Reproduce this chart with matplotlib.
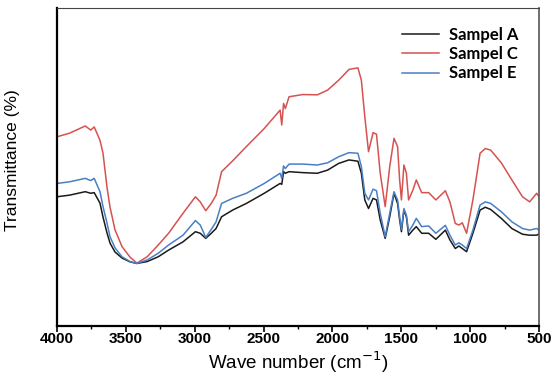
import matplotlib
matplotlib.use("Agg")
import matplotlib.pyplot as plt
from matplotlib.ticker import MultipleLocator

# wavenumber grid (cm-1)
wavenumber = [4000, 3910, 3795, 3755, 3730, 3688, 3666, 3637, 3615, 3579,
              3528, 3470, 3420, 3345, 3265, 3190, 3085, 2995, 2960, 2920,
              2880, 2845, 2805, 2725, 2625, 2495, 2380, 2368, 2355, 2342,
              2315, 2215, 2110, 2035, 1955, 1880, 1815, 1790, 1765, 1738,
              1705, 1680, 1653, 1617, 1584, 1553, 1527, 1512, 1499, 1481,
              1463, 1447, 1416, 1391, 1352, 1301, 1249, 1180, 1147, 1108,
              1082, 1057, 1026, 980, 928, 890, 851, 774, 697, 620,
              568, 517, 500]

# transmittance (arbitrary %, axis runs 0-100)
sampel_a = [40.7, 41.2, 42.3, 41.8, 42.0, 38.7, 34.3, 29.3, 26.1, 23.3,
            21.4, 20.2, 19.7, 20.3, 21.8, 23.9, 26.5, 29.7, 29.2, 27.6,
            29.2, 30.7, 34.4, 36.5, 38.6, 41.8, 44.9, 44.6, 48.6, 48.1,
            48.6, 48.3, 48.1, 49.1, 51.2, 52.3, 51.9, 48.1, 39.7, 37.0,
            40.2, 39.7, 33.4, 27.6, 34.4, 41.8, 38.6, 33.4, 29.7, 36.5,
            34.4, 28.6, 30.2, 31.3, 29.2, 29.2, 27.3, 30.2, 27.1, 24.4,
            25.2, 24.4, 23.4, 29.2, 36.5, 37.4, 36.7, 33.9, 30.7, 28.9,
            28.6, 28.6, 29.0]

sampel_c = [59.6, 60.7, 63.0, 61.7, 62.7, 58.5, 54.4, 43.7, 37.4, 30.3,
            25.0, 21.7, 19.8, 21.8, 25.5, 29.2, 35.5, 40.7, 39.1, 36.3,
            38.6, 41.2, 48.6, 52.0, 56.5, 62.2, 68.0, 63.3, 70.1, 68.5,
            72.2, 72.9, 72.8, 74.3, 77.4, 80.8, 81.3, 77.4, 65.9, 54.9,
            60.9, 60.4, 48.1, 37.6, 50.2, 59.1, 56.5, 46.0, 39.7, 50.7,
            48.1, 39.7, 42.8, 46.0, 42.0, 42.0, 39.7, 42.6, 39.1, 32.3,
            31.8, 32.5, 29.2, 39.7, 54.4, 55.9, 55.4, 51.4, 46.0, 40.7,
            39.1, 41.8, 40.7]

sampel_e = [44.9, 45.4, 46.5, 45.8, 46.5, 42.3, 37.6, 32.4, 28.1, 24.6,
            21.8, 20.3, 19.7, 20.8, 22.9, 25.5, 28.6, 33.2, 31.8, 27.9,
            30.4, 32.8, 38.6, 40.2, 41.8, 44.9, 48.1, 46.5, 50.4, 49.6,
            51.0, 51.0, 50.7, 51.4, 53.3, 54.6, 54.4, 50.2, 41.8, 39.7,
            43.1, 42.6, 35.5, 28.1, 35.5, 42.3, 39.7, 34.4, 30.4, 37.0,
            34.9, 29.7, 31.8, 33.9, 31.3, 31.5, 29.2, 31.7, 28.6, 25.5,
            26.2, 25.5, 24.4, 30.2, 38.1, 39.1, 38.6, 36.0, 32.8, 30.7,
            30.2, 30.7, 30.2]

labels = ["Sampel A", "Sampel C", "Sampel E"]
colors = ["#1a1a1a", "#d65250", "#4a7fc6"]

fig = plt.figure(figsize=(5.53, 3.81), dpi=100)
ax = fig.add_axes([0.1031, 0.1444, 0.8716, 0.8333])

for vals, lab, col in zip([sampel_a, sampel_c, sampel_e], labels, colors):
    ax.plot(wavenumber, vals, color=col, lw=1.1, label=lab)

ax.set_xlim(4000, 500)
ax.set_ylim(0, 100)
ax.xaxis.set_major_locator(MultipleLocator(500))
ax.xaxis.set_minor_locator(MultipleLocator(250))
ax.set_yticks([])
ax.tick_params(axis="x", which="major", direction="out", length=4, width=1.2, pad=0.5)
ax.tick_params(axis="x", which="minor", direction="out", length=2.5, width=1.0)
for t in ax.get_xticklabels():
    t.set_fontfamily("Liberation Sans")
    t.set_fontweight("bold")
    t.set_fontsize(11)

ax.spines["left"].set_linewidth(1.6)
ax.spines["bottom"].set_linewidth(1.6)
ax.spines["top"].set_linewidth(0.8)
ax.spines["top"].set_color("#444444")
ax.spines["right"].set_linewidth(1.2)
ax.spines["right"].set_color("#555555")

ax.set_xlabel("Wave number (cm$^{-1}$)", fontsize=13.5, family="Liberation Sans", labelpad=2)
ax.set_ylabel("Transmittance (%)", fontsize=12.5, family="Liberation Sans")
ax.yaxis.set_label_coords(-0.077, 0.523)

leg = ax.legend(loc="upper left", bbox_to_anchor=(0.685, 0.99), frameon=False,
                handlelength=2.2, handletextpad=0.6, labelspacing=0.2,
                prop={"family": "Lato", "weight": "bold", "size": 12})

fig.savefig("out.png", dpi=100)
